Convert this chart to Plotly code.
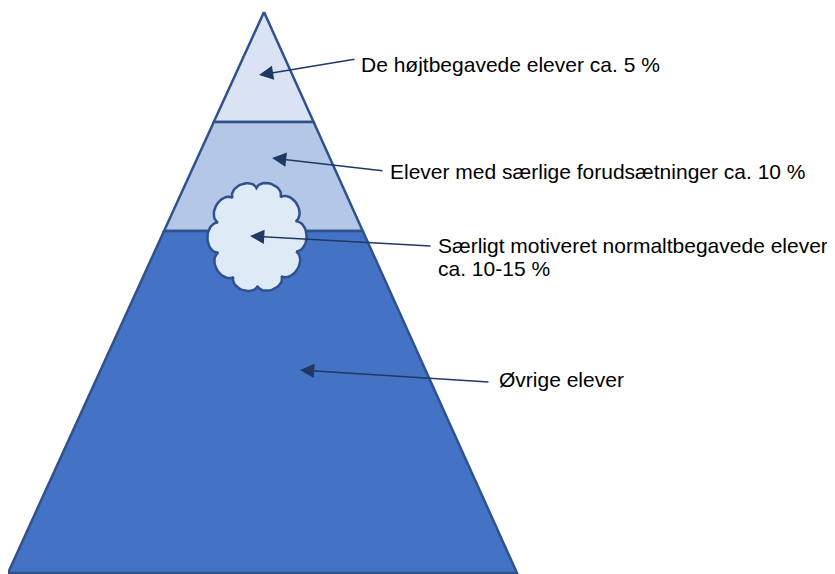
import numpy as np
import plotly.graph_objects as go

# Pyramid geometry (pixel-like coordinates)
apex = (264, 12)
base_y = 573
base_x = (8, 517)
boundaries_y = [122, 231]  # layer boundaries

layer_names = ["De højtbegavede elever ca. 5 %",
               "Elever med særlige forudsætninger ca. 10 %",
               "Særligt motiveret normaltbegavede elever\nca. 10-15 %",
               "Øvrige elever"]
label_x = [359, 388, 436, 497]
label_y = [64, 171, 257, 379]
arrow_tail = [(356, 59), (384, 171), (432, 246), (490, 382)]
arrow_head = [(259, 75), (272, 158), (250, 236), (300, 370)]

layer_fill = ["#DAE3F3", "#B4C7E7", "#4472C4"]
edge_col = "#2F528F"
arrow_col = "#203864"
cloud_fill = "#DEEBF7"

OFF = 8  # browser body margin
LINE_H = 23

def edge_x(y):
    t = (y - apex[1]) / (base_y - apex[1])
    left = apex[0] + (base_x[0] - apex[0]) * t
    right = apex[0] + (base_x[1] - apex[0]) * t
    return left, right

fig = go.Figure()

ys = [apex[1]] + boundaries_y + [base_y]
for i in range(3):
    y0, y1 = ys[i], ys[i + 1]
    l0, r0 = edge_x(y0)
    l1, r1 = edge_x(y1)
    if i == 0:
        xs = [apex[0], r1, l1, apex[0]]
        yy = [y0, y1, y1, y0]
    else:
        xs = [l0, r0, r1, l1, l0]
        yy = [y0, y0, y1, y1, y0]
    fig.add_trace(go.Scatter(x=xs, y=yy, fill="toself", fillcolor=layer_fill[i],
                             mode="lines", line=dict(color=edge_col, width=2.5),
                             hoverinfo="skip", showlegend=False))

# Cloud
cx, cy, rx, ry = 257, 237, 41, 49
n = 10
angs = np.linspace(0, 2 * np.pi, n + 1) + 0.3
px = cx + rx * np.cos(angs)
py = cy + ry * np.sin(angs)
cxs, cys = [], []
for i in range(n):
    P = np.array([px[i], py[i]]); Q = np.array([px[i + 1], py[i + 1]])
    M = (P + Q) / 2
    c = np.linalg.norm(P - M)
    u = (P - M) / c
    nrm = np.array([u[1], -u[0]])
    if np.dot(nrm, M - np.array([cx, cy])) < 0:
        nrm = -nrm
    for t in np.linspace(0, np.pi, 20):
        pt = M + c * (u * np.cos(t) + 0.7 * nrm * np.sin(t))
        cxs.append(pt[0]); cys.append(pt[1])
cxs.append(cxs[0]); cys.append(cys[0])
fig.add_trace(go.Scatter(x=cxs, y=cys, fill="toself", fillcolor=cloud_fill,
                         mode="lines", line=dict(color=edge_col, width=2.5),
                         hoverinfo="skip", showlegend=False))

for name, x, y, tl, hd in zip(layer_names, label_x, label_y, arrow_tail, arrow_head):
    lines = name.split("\n")
    top = y - LINE_H * (len(lines) - 1) / 2
    for k, ln in enumerate(lines):
        fig.add_annotation(x=x, y=top + k * LINE_H, text=ln, showarrow=False,
                           xanchor="left", yanchor="middle", align="left",
                           font=dict(family="Liberation Sans, Arial", size=21,
                                     color="#000000"))
    fig.add_annotation(x=hd[0], y=hd[1], ax=tl[0], ay=tl[1], xref="x", yref="y",
                       axref="x", ayref="y", text="", showarrow=True,
                       arrowhead=2, arrowsize=1.9, arrowwidth=1.5, arrowcolor=arrow_col,
                       standoff=0)

fig.update_layout(width=835 - OFF, height=574 - OFF, margin=dict(l=0, r=0, t=0, b=0),
                  plot_bgcolor="white", paper_bgcolor="white")
fig.update_xaxes(range=[OFF, 835], visible=False, fixedrange=True)
fig.update_yaxes(range=[574, OFF], visible=False, fixedrange=True)
fig.write_html("out.html")
